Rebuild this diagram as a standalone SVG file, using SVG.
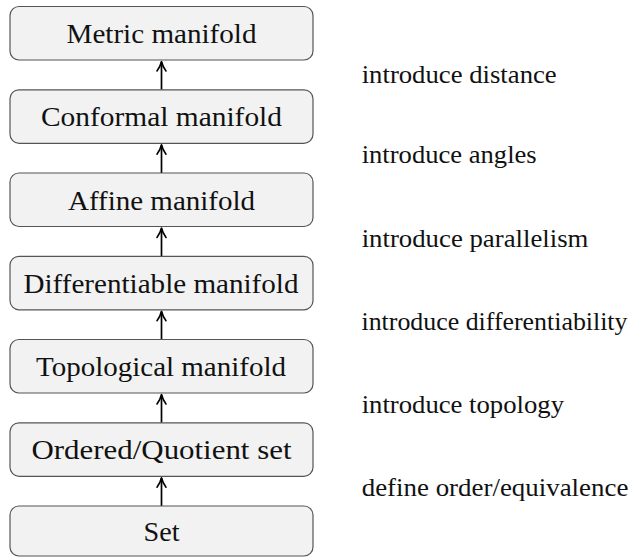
<svg xmlns="http://www.w3.org/2000/svg" width="635" height="557" viewBox="0 0 635 557">
<style>
.box{fill:#f2f2f2;stroke:#555;stroke-width:1.2}
.t{font-family:"Liberation Serif","DejaVu Serif",serif;font-size:28px;fill:#111;text-anchor:middle}
.lbl{font-family:"Liberation Serif","DejaVu Serif",serif;font-size:26px;fill:#111}
.ln{stroke:#000;stroke-width:1.7;fill:none}
.hd{stroke:#000;stroke-width:1.6;fill:none;stroke-linecap:round;stroke-linejoin:round}
</style>
<rect width="635" height="557" fill="#fff"/>
<g id="connectors">
<g transform="translate(161.5,0)">
<line class="ln" x1="0" y1="89.8" x2="0" y2="62"/><path class="hd" d="M-4.5,71 Q-1.2,66.5 0,61.5 Q1.2,66.5 4.5,71"/>
<line class="ln" x1="0" y1="173" x2="0" y2="145.2"/><path class="hd" d="M-4.5,154.2 Q-1.2,149.7 0,144.7 Q1.2,149.7 4.5,154.2"/>
<line class="ln" x1="0" y1="256.3" x2="0" y2="228.5"/><path class="hd" d="M-4.5,237.5 Q-1.2,233 0,228 Q1.2,233 4.5,237.5"/>
<line class="ln" x1="0" y1="339.5" x2="0" y2="311.7"/><path class="hd" d="M-4.5,320.7 Q-1.2,316.2 0,311.2 Q1.2,316.2 4.5,320.7"/>
<line class="ln" x1="0" y1="422.8" x2="0" y2="395"/><path class="hd" d="M-4.5,404 Q-1.2,399.5 0,394.5 Q1.2,399.5 4.5,404"/>
<line class="ln" x1="0" y1="506" x2="0" y2="478.2"/><path class="hd" d="M-4.5,487.2 Q-1.2,482.7 0,477.7 Q1.2,482.7 4.5,487.2"/>
</g>
</g>
<g id="metric"><rect class="box" x="10" y="6.5" width="303" height="53.5" rx="9"/><text class="t" x="161.5" y="43.3" textLength="190" lengthAdjust="spacingAndGlyphs">Metric manifold</text></g>
<g id="conformal"><rect class="box" x="10" y="89.8" width="303" height="53.5" rx="9"/><text class="t" x="161.5" y="126.3" textLength="241" lengthAdjust="spacingAndGlyphs">Conformal manifold</text></g>
<g id="affine"><rect class="box" x="10" y="173" width="303" height="53.5" rx="9"/><text class="t" x="161.5" y="209.5" textLength="187" lengthAdjust="spacingAndGlyphs">Affine manifold</text></g>
<g id="differentiable"><rect class="box" x="10" y="256.3" width="303" height="53.5" rx="9"/><text class="t" x="161" y="292.8" textLength="275" lengthAdjust="spacingAndGlyphs">Differentiable manifold</text></g>
<g id="topological"><rect class="box" x="10" y="339.5" width="303" height="53.5" rx="9"/><text class="t" x="161" y="376" textLength="250" lengthAdjust="spacingAndGlyphs">Topological manifold</text></g>
<g id="ordered"><rect class="box" x="10" y="422.8" width="303" height="53.5" rx="9"/><text class="t" x="161.5" y="459.3" textLength="260" lengthAdjust="spacingAndGlyphs">Ordered/Quotient set</text></g>
<g id="set"><rect class="box" x="10" y="506" width="303" height="50" rx="9"/><text class="t" x="161.5" y="540.5" textLength="36" lengthAdjust="spacingAndGlyphs">Set</text></g>
<g id="labels">
<text class="lbl" x="361.7" y="83.3" textLength="195" lengthAdjust="spacingAndGlyphs">introduce distance</text>
<text class="lbl" x="361.7" y="163.3" textLength="175" lengthAdjust="spacingAndGlyphs">introduce angles</text>
<text class="lbl" x="361.7" y="246.7" textLength="226.7" lengthAdjust="spacingAndGlyphs">introduce parallelism</text>
<text class="lbl" x="361.5" y="330" textLength="266" lengthAdjust="spacingAndGlyphs">introduce differentiability</text>
<text class="lbl" x="361.7" y="413.3" textLength="202.3" lengthAdjust="spacingAndGlyphs">introduce topology</text>
<text class="lbl" x="361.7" y="495.5" textLength="266.7" lengthAdjust="spacingAndGlyphs">define order/equivalence</text>
</g>
</svg>
